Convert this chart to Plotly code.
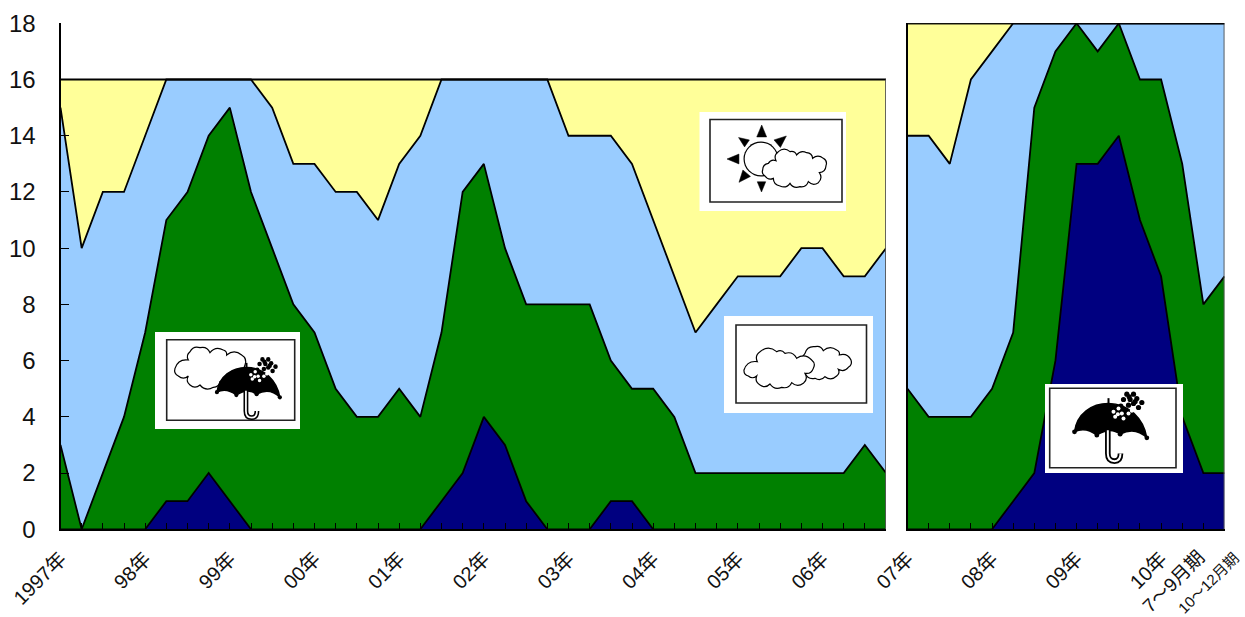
import plotly.graph_objects as go

W, H = 1245, 617

# Panel 1: 1997-2006, quarterly
rain_a = [0,0,0,0,0,1,1,2,1,0, 0,0,0,0,0,0,0,0,1,2, 4,3,1,0,0,0,1,1,0,0, 0,0,0,0,0,0,0,0,0,0]
cloud_a = [3,0,2,4,7,10,11,12,14,12, 10,8,7,5,4,4,5,4,6,10, 9,7,7,8,8,8,5,4,5,4, 2,2,2,2,2,2,2,2,3,2]
fair_a = [12,10,10,8,7,5,4,2,1,4, 5,5,6,7,8,7,8,10,9,4, 3,6,8,8,6,6,8,8,6,5, 5,6,7,7,7,8,8,7,6,8]
sun_a = [1,6,4,4,2,0,0,0,0,0, 1,3,3,4,4,5,3,2,0,0, 0,0,0,0,2,2,2,3,5,7, 9,8,7,7,7,6,6,7,7,6]
labels_a = ["1997年","98年","99年","00年","01年","02年","03年","04年","05年","06年"]

# Panel 2: 2007-2010, quarterly
rain_b = [0,0,0,0,0,1,2,6,13,13,14,11,9,4,2,2]
cloud_b = [5,4,4,4,5,6,13,11,5,4,4,5,7,9,6,7]
fair_b = [9,10,9,12,12,11,3,1,0,1,0,2,2,5,10,9]
sun_b = [4,4,5,2,1,0,0,0,0,0,0,0,0,0,0,0]
labels_b = {0:"07年", 4:"08年", 8:"09年", 12:"10年"}
q3_label = "7～9月期"
q4_label = "10～12月期"

COL = {"rain":"#000080", "cloud":"#008000", "fair":"#99CCFF", "sun":"#FFFF99"}
FONT = "Liberation Sans, Arial, Noto Sans CJK JP"

fig = go.Figure()
def stack(vals, key, ax, ay, grp):
    fig.add_trace(go.Scatter(x=list(range(len(vals))), y=vals, mode="lines", stackgroup=grp,
                             xaxis=ax, yaxis=ay, fillcolor=COL[key], hoverinfo="skip",
                             line=dict(color="black", width=1.8, shape="linear"), showlegend=False))
for v, k in zip([rain_a, cloud_a, fair_a, sun_a], COL):
    stack(v, k, "x", "y", "a")
for v, k in zip([rain_b, cloud_b, fair_b, sun_b], COL):
    stack(v, k, "x2", "y2", "b")

# ---------- icons, in page pixels ----------
shapes = []
def px(x): return x / W
def py(y): return 1 - y / H
def path(d_cmds, fill=None, lc="black", lw=1.2):
    s = ""
    for c in d_cmds:
        s += c[0] + " ".join(f"{px(c[i]):.5f},{py(c[i+1]):.5f}" for i in range(1, len(c), 2)) + " "
    shapes.append(dict(type="path", xref="paper", yref="paper", path=s + ("Z" if fill else ""),
                       fillcolor=fill or "rgba(0,0,0,0)", line=dict(color=lc, width=lw), layer="above"))
def rect(x0, y0, x1, y1, fill, lc=None, lw=0):
    shapes.append(dict(type="rect", xref="paper", yref="paper", x0=px(x0), x1=px(x1), y0=py(y1), y1=py(y0),
                       fillcolor=fill, line=dict(color=lc or "rgba(0,0,0,0)", width=lw), layer="above"))
def dot(x, y, r, fill, lc=None):
    shapes.append(dict(type="circle", xref="paper", yref="paper", x0=px(x-r), x1=px(x+r), y0=py(y+r), y1=py(y-r),
                       fillcolor=fill, line=dict(width=0, color="rgba(0,0,0,0)"), layer="above"))
def box(o, f):
    rect(*o, "white")
    rect(*f, "white", "#222222", 1.6)
def cloud(pts3, ox, oy):
    pts = [(ox + a/3, oy + b/3) for a, b in pts3]
    cx = sum(p[0] for p in pts)/len(pts); cy = sum(p[1] for p in pts)/len(pts)
    cmds = [("M", *pts[0])]
    for i in range(len(pts)):
        a, b = pts[i], pts[(i+1) % len(pts)]
        mx, my = (a[0]+b[0])/2, (a[1]+b[1])/2
        dx, dy = b[0]-a[0], b[1]-a[1]
        nx, ny = dy, -dx
        if nx*(mx-cx)+ny*(my-cy) < 0:
            nx, ny = -nx, -ny
        cmds.append(("Q", mx+0.42*nx, my+0.42*ny, b[0], b[1]))
    path(cmds, fill="white", lw=1.2)
def umbrella(ax, ay, s):
    P = lambda a, b: (ax + s*a/3, ay + s*b/3)
    path([("M", *P(0,-16)), ("L", *P(0,0))], lw=2)
    path([("M", *P(-102,85)), ("C", *P(-95,30), *P(-50,0), *P(0,0)),
          ("C", *P(60,0), *P(105,45), *P(115,103)), ("Q", *P(80,68), *P(35,92)),
          ("Q", *P(5,68), *P(-35,95)), ("Q", *P(-70,68), *P(-102,85))], fill="black", lw=1.5)
    for a, b in [(-102,85),(115,103),(-35,95),(35,92)]:
        dot(*P(a,b), 2.4*s, "black")
    for col, w in [("black", 5.6*s), ("white", 2.0*s)]:
        path([("M", *P(-2,80)), ("L", *P(-2,150)), ("Q", *P(-2,173), *P(18,173)), ("Q", *P(36,173), *P(36,150))], lc=col, lw=w)
    for a, b in [(55,-28),(75,-28),(45,-12),(65,-12),(85,-15),(100,-3),(75,0),(60,5),(90,12),(37,8),(62,-20),(80,-6)]:
        dot(*P(a,b), 2.6*s, "black")
    for a, b in [(15,25),(30,15),(40,30),(20,40),(45,45),(60,30),(70,22),(28,32)]:
        dot(*P(a,b), 2.0*s, "white")
def tri(cx, cy, ang, size):
    import math
    pts = [(cx + size*math.cos(math.radians(ang+d)), cy + size*math.sin(math.radians(ang+d))) for d in (0,135,225)]
    path([("M", *pts[0]), ("L", *pts[1]), ("L", *pts[2])], fill="black", lw=0.5)

# Sun-and-cloud icon
box((699.5,112,846,211), (710,119.5,842,202))
dot(761,159,17.5,"black"); dot(761,159,16.3,"white")
for c in [(761.7,132,-90,7),(781,140.5,-40,7),(734,159,180,7),(743.5,141,-145,6),(743.5,177,130,7),(761.5,186,90,6)]:
    tri(*c)
cloud([(218,210),(235,190),(258,182),(265,155),(300,155),(320,165),(350,158),(368,175),(400,175),(408,197),(388,218),
       (385,248),(355,245),(330,260),(300,250),(270,258),(250,235),(225,228)], 690, 100)
# Cloud icon
box((724,316,873,413), (736,325,866.5,403))
cloud([(1155,130),(1185,110),(1210,122),(1250,120),(1258,135),(1293,150),(1285,172),(1255,178),(1250,198),(1215,200),(1185,205),(1155,190)], 420, 310)
cloud([(972,180),(1012,155),(1020,125),(1070,125),(1095,130),(1130,145),(1175,150),(1180,175),(1155,190),(1150,220),
       (1115,218),(1085,232),(1050,222),(1020,225),(1010,198),(985,198)], 420, 310)
# Cloud-and-rain icon
box((155,332,300,429), (166.7,339.7,294.7,420.3))
cloud([(525,175),(565,150),(570,125),(600,113),(630,128),(670,120),(680,135),(725,135),(735,165),(660,215),(640,232),
       (600,225),(570,225),(565,198),(535,198)], 0, 310)
umbrella(246.5, 367.5, 0.87)
# Umbrella icon
box((1045,384,1183,473), (1049.7,388.3,1176,467.7))
umbrella(1108.5, 403.5, 1.0)

# Right-hand borders of the two panels
shapes.append(dict(type="line", xref="x", yref="y", x0=len(rain_a)-1, x1=len(rain_a)-1, y0=0, y1=16,
                   line=dict(color="#555555", width=1.8)))
shapes.append(dict(type="line", xref="x2", yref="y2", x0=len(rain_b)-1, x1=len(rain_b)-1, y0=0, y1=18,
                   line=dict(color="#555555", width=1.8)))

ydom = [1-529.3/H, 1-23.3/H]
tickfont_x = dict(family=FONT, size=20, color="#111111")
common_x = dict(showgrid=False, zeroline=False, showline=True, linecolor="black", linewidth=2,
                ticks="inside", ticklen=6, tickwidth=1.3, tickcolor="black", tickangle=-45, automargin=False,
                tickmode="array", tickfont=tickfont_x, ticklabelstandoff=8)
ticks_a = list(range(len(rain_a)))
ticks_b = list(range(len(rain_b)))
fig.update_layout(
    width=W, height=H, margin=dict(l=0, r=0, t=0, b=0, autoexpand=False), paper_bgcolor="white", plot_bgcolor="white",
    showlegend=False, shapes=shapes, hovermode=False,
    xaxis=dict(common_x, domain=[60.5/W, 886/W], range=[0, len(rain_a)-1], anchor="y", tickvals=ticks_a,
               ticktext=[labels_a[i//4] if i % 4 == 0 else "" for i in ticks_a]),
    xaxis2=dict(common_x, domain=[907.5/W, 1224.5/W], range=[0, len(rain_b)-1], anchor="y2", tickvals=ticks_b,
                ticktext=[labels_b.get(i, "") for i in ticks_b]),
    yaxis=dict(domain=ydom, range=[0, 18], tickmode="array", tickvals=list(range(0, 19, 2)), showgrid=False,
               zeroline=False, showline=True, linecolor="black", linewidth=2, ticks="inside", ticklen=8,
               tickwidth=1.3, tickcolor="black", ticklabelstandoff=18, automargin=False,
               tickfont=dict(family=FONT, size=24, color="#111111"), anchor="x"),
    yaxis2=dict(domain=ydom, range=[0, 18], showgrid=False, zeroline=False, showline=True, linecolor="black",
                linewidth=1.5, ticks="", showticklabels=False, anchor="x2", mirror=False, automargin=False),
    annotations=[
        dict(text=q3_label, xref="x2", yref="paper", x=len(rain_b)-2, y=py(581), xanchor="center",
             yanchor="middle", xshift=-30, textangle=-45, showarrow=False,
             font=dict(family=FONT, size=19, color="#111111")),
        dict(text=q4_label, xref="x2", yref="paper", x=len(rain_b)-1, y=py(583), xanchor="center",
             yanchor="middle", xshift=-17, textangle=-45, showarrow=False,
             font=dict(family=FONT, size=15, color="#111111")),
    ],
)
# Top border of the right panel
fig.add_shape(type="line", xref="x2", yref="y2", x0=0, x1=len(rain_b)-1, y0=18, y1=18, line=dict(color="black", width=1.8))

fig.write_html("out.html", config=dict(displayModeBar=False), post_script="document.body.style.margin='0';")
